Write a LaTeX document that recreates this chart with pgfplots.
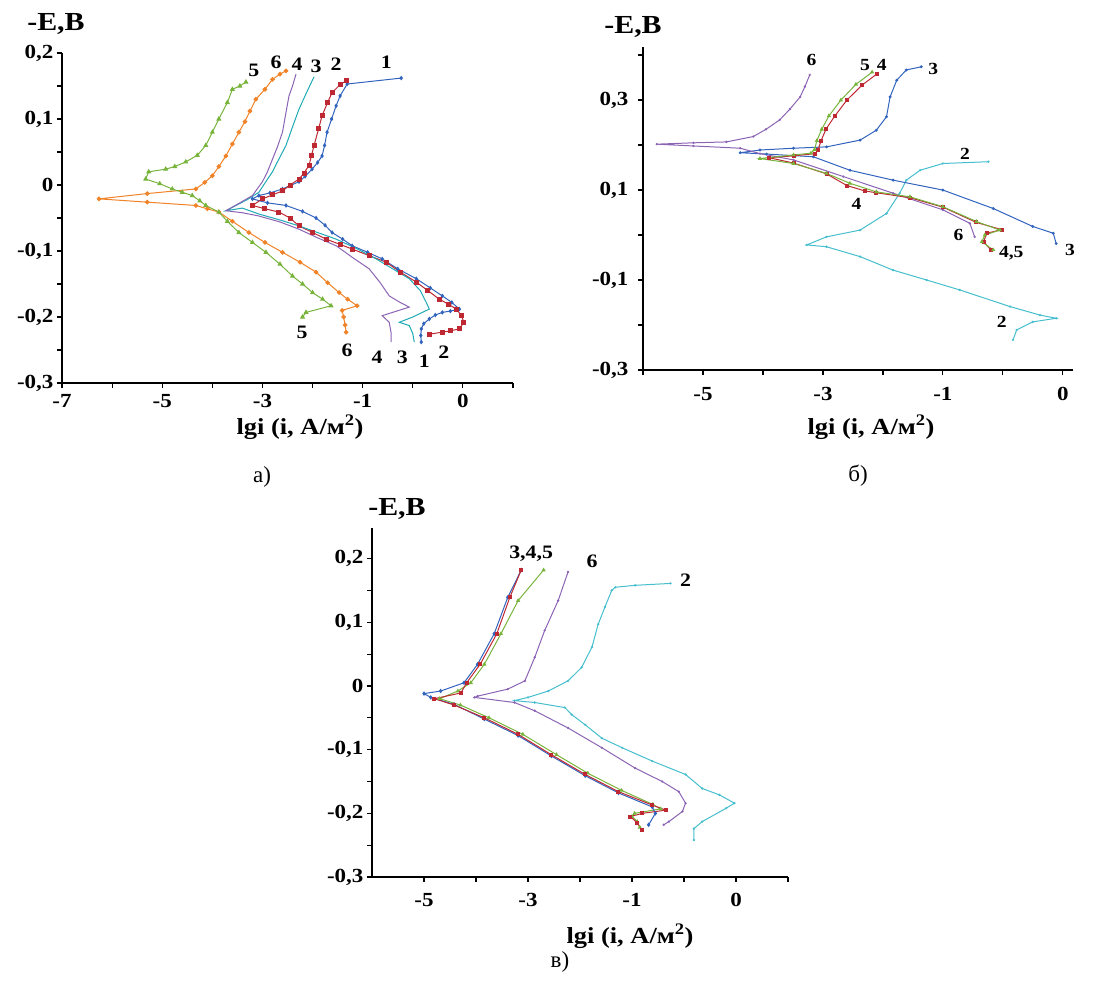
\documentclass[border=0pt]{standalone}
\usepackage{fontspec}
\setmainfont{Liberation Serif}
\newfontfamily\wfont[FakeStretch=1.15]{Liberation Serif}
\usepackage{pgfplots}
\pgfplotsset{compat=1.18}
\definecolor{cBlue}{RGB}{50,100,190}
\definecolor{cRed}{RGB}{190,40,50}
\definecolor{cTeal}{RGB}{30,170,180}
\definecolor{cCyan}{RGB}{70,190,205}
\definecolor{cPurple}{RGB}{140,100,180}
\definecolor{cGreen}{RGB}{120,180,60}
\definecolor{cOrange}{RGB}{240,130,40}
\newcommand{\tickf}{\wfont\bfseries\fontsize{20}{21}\selectfont}
\pgfplotsset{
  myax/.style={scale only axis, axis lines=left,
    axis line style={-, line width=1.5pt, black},
    tick style={black, line width=1.2pt},
    major tick length=5pt, minor tick length=5pt, tick align=outside,
    tick label style={font=\tickf},
    clip=false,
    every axis plot/.append style={line width=1pt}},
}
\tikzset{
  lab/.style={font=\wfont\bfseries\fontsize{19}{20}\selectfont, inner sep=0pt},
  labs/.style={font=\wfont\bfseries\fontsize{17}{18}\selectfont, inner sep=0pt},
}
\begin{document}
\begin{tikzpicture}
\path (0pt,0pt) rectangle (1099pt,-981pt);
% ================= panel a =================
\begin{axis}[myax, at={(62pt,-383pt)}, anchor=south west, width=451pt, height=330pt,
  xticklabel style={yshift=-3pt},
  xmin=-7, xmax=2, ymin=-0.3, ymax=0.2,
  xtick={-7,-5,-3,-1,1}, xticklabels={-7,-5,-3,-1,0}, minor xtick={-6,-4,-2,0,2},
  ytick={-0.3,-0.2,-0.1,0,0.1,0.2}, yticklabels={{-0,3},{-0,2},{-0,1},{0},{0,1},{0,2}},
  minor ytick={-0.25,-0.15,-0.05,0.05,0.15}]
% 1 blue
\addplot[cBlue, mark=diamond*, mark size=1.5pt] coordinates {
(-0.23,0.162) (-1.31,0.153) (-1.45,0.135) (-1.53,0.12) (-1.62,0.10) (-1.71,0.08) (-1.76,0.06) (-1.81,0.044) (-1.9,0.034) (-2.01,0.024) (-2.15,0.013) (-2.27,0.005) (-2.45,-0.001) (-2.6,-0.006) (-2.85,-0.012) (-3.07,-0.016) (-3.2,-0.021)
(-2.9,-0.027) (-2.53,-0.031) (-2.2,-0.04) (-1.93,-0.05) (-1.75,-0.061) (-1.61,-0.072) (-1.4,-0.082) (-1.21,-0.092) (-0.9,-0.102) (-0.61,-0.112) (-0.3,-0.127) (0.07,-0.142) (0.35,-0.156) (0.59,-0.168) (0.78,-0.178) (0.93,-0.188) (0.75,-0.191) (0.59,-0.193) (0.45,-0.197) (0.33,-0.203) (0.22,-0.21) (0.17,-0.218) (0.16,-0.228) (0.17,-0.238)};
% 2 red
\addplot[cRed, mark=square*, mark size=2pt] coordinates {
(-1.33,0.158) (-1.45,0.152) (-1.61,0.14) (-1.7,0.125) (-1.81,0.105) (-1.88,0.085) (-1.97,0.06) (-2.02,0.045) (-2.07,0.03) (-2.17,0.018) (-2.27,0.009) (-2.45,0.0) (-2.6,-0.009) (-2.8,-0.015) (-3.0,-0.021) (-3.2,-0.031)
(-2.95,-0.036) (-2.67,-0.041) (-2.45,-0.05) (-2.27,-0.062) (-2.0,-0.072) (-1.73,-0.082) (-1.45,-0.09) (-1.21,-0.097) (-0.87,-0.107) (-0.53,-0.117) (-0.25,-0.132) (0.07,-0.147) (0.3,-0.16) (0.53,-0.173) (0.72,-0.181) (0.87,-0.188) (0.97,-0.198) (1.02,-0.208) (0.93,-0.218) (0.75,-0.221) (0.59,-0.223) (0.33,-0.226)};
% 3 teal
\addplot[cTeal] coordinates {
(-1.97,0.164) (-2.12,0.14) (-2.27,0.115) (-2.4,0.088) (-2.53,0.06) (-2.68,0.038) (-2.8,0.02) (-2.95,0.003) (-3.07,-0.011) (-3.3,-0.022) (-3.73,-0.039)
(-3.4,-0.035) (-3.07,-0.044) (-2.65,-0.053) (-2.27,-0.062) (-1.9,-0.072) (-1.53,-0.082) (-1.1,-0.097) (-0.73,-0.112) (-0.4,-0.127) (-0.07,-0.142) (0.15,-0.16) (0.27,-0.178) (0.33,-0.188) (0.0,-0.2) (-0.27,-0.208) (-0.07,-0.213) (0.0,-0.225) (0.03,-0.238)};
% 4 purple
\addplot[cPurple] coordinates {
(-2.33,0.168) (-2.4,0.15) (-2.47,0.135) (-2.53,0.11) (-2.6,0.08) (-2.7,0.058) (-2.8,0.039) (-2.9,0.02) (-3.0,0.005) (-3.2,-0.016) (-3.45,-0.027) (-3.73,-0.039)
(-3.4,-0.042) (-3.07,-0.047) (-2.65,-0.056) (-2.27,-0.067) (-1.9,-0.08) (-1.53,-0.092) (-1.2,-0.11) (-0.87,-0.127) (-0.65,-0.148) (-0.47,-0.168) (-0.25,-0.178) (-0.07,-0.185) (-0.61,-0.198) (-0.47,-0.208) (-0.43,-0.225) (-0.43,-0.238)};
% 6 orange
\addplot[cOrange, mark=*, mark size=1.8pt] coordinates {
(-2.53,0.173) (-2.65,0.168) (-2.8,0.16) (-2.95,0.145) (-3.13,0.13) (-3.25,0.112) (-3.35,0.096) (-3.47,0.08) (-3.6,0.062) (-3.73,0.044) (-3.87,0.028) (-4.0,0.014) (-4.15,0.004) (-4.33,-0.006) (-5.3,-0.013) (-6.26,-0.021) (-5.3,-0.026) (-4.33,-0.031) (-4.1,-0.036) (-3.87,-0.041) (-3.6,-0.055) (-3.27,-0.072) (-2.95,-0.087) (-2.6,-0.102) (-2.25,-0.117) (-1.93,-0.132) (-1.7,-0.148) (-1.47,-0.163) (-1.3,-0.173) (-1.11,-0.183) (-1.41,-0.19) (-1.38,-0.2) (-1.35,-0.212) (-1.33,-0.223)};
% 5 green
\addplot[cGreen, mark=triangle*, mark size=2pt] coordinates {
(-3.33,0.156) (-3.45,0.15) (-3.6,0.145) (-3.7,0.125) (-3.87,0.1) (-4.0,0.08) (-4.13,0.06) (-4.3,0.045) (-4.53,0.035) (-4.75,0.028) (-4.93,0.024) (-5.27,0.02) (-5.33,0.009) (-5.05,0.002) (-4.8,-0.006) (-4.6,-0.011) (-4.4,-0.016) (-4.25,-0.024) (-4.13,-0.031) (-3.87,-0.041) (-3.7,-0.055) (-3.47,-0.072) (-3.2,-0.087) (-2.93,-0.102) (-2.65,-0.12) (-2.4,-0.138) (-2.2,-0.15) (-2.0,-0.163) (-1.8,-0.173) (-1.63,-0.183) (-2.13,-0.193) (-2.2,-0.2)};
\node[lab] at (axis cs:-3.17,0.173) {5};
\node[lab] at (axis cs:-2.73,0.186) {6};
\node[lab] at (axis cs:-2.31,0.183) {4};
\node[lab] at (axis cs:-1.93,0.180) {3};
\node[lab] at (axis cs:-1.53,0.183) {2};
\node[lab] at (axis cs:-0.53,0.186) {1};
\node[lab] at (axis cs:-2.21,-0.223) {5};
\node[lab] at (axis cs:-1.31,-0.251) {6};
\node[lab] at (axis cs:-0.71,-0.261) {4};
\node[lab] at (axis cs:-0.21,-0.261) {3};
\node[lab] at (axis cs:0.23,-0.267) {1};
\node[lab] at (axis cs:0.62,-0.253) {2};
\end{axis}
% ================= panel b =================
\begin{axis}[myax, at={(643pt,-370pt)}, anchor=south west, width=430pt, height=323pt,
  yticklabel style={xshift=-6pt}, xticklabel style={yshift=-9pt},
  xmin=-6, xmax=1.17, ymin=-0.3, ymax=0.418,
  xtick={-5,-3,-1,1}, xticklabels={-5,-3,-1,0}, minor xtick={-6,-4,-2,0},
  ytick={-0.3,-0.1,0.1,0.3}, yticklabels={{-0,3},{-0,1},{0,1},{0,3}},
  minor ytick={-0.2,0,0.2,0.4}]
% 2 cyan
\addplot[cCyan, mark=*, mark size=0.6pt] coordinates {
(-0.24,0.163) (-1.0,0.159) (-1.38,0.144) (-1.61,0.122) (-1.72,0.093) (-1.94,0.048) (-2.38,0.011) (-2.94,-0.004) (-3.27,-0.022) (-2.94,-0.026) (-2.38,-0.048) (-1.83,-0.078) (-1.27,-0.1) (-0.72,-0.122) (0.12,-0.159) (0.62,-0.178) (0.89,-0.185) (0.5,-0.193) (0.23,-0.211) (0.17,-0.233)};
% 3 blue
\addplot[cBlue, mark=*, mark size=0.9pt] coordinates {
(-1.36,0.374) (-1.61,0.367) (-1.77,0.344) (-1.88,0.307) (-1.94,0.263) (-2.11,0.233) (-2.38,0.211) (-2.94,0.196) (-3.49,0.193) (-4.05,0.189) (-4.38,0.183) (-3.94,0.18) (-3.16,0.174) (-2.55,0.144) (-1.83,0.122) (-1.0,0.1) (-0.16,0.059) (0.5,0.019) (0.84,0.004) (0.89,-0.019)};
% 6 purple
\addplot[cPurple, mark=*, mark size=0.6pt] coordinates {
(-3.22,0.356) (-3.3,0.33) (-3.38,0.307) (-3.55,0.28) (-3.72,0.256) (-3.95,0.235) (-4.16,0.219) (-4.61,0.207) (-5.16,0.205) (-5.77,0.202) (-5.16,0.198) (-4.38,0.193) (-4.05,0.181) (-3.49,0.167) (-2.66,0.13) (-1.83,0.093) (-1.0,0.056) (-0.55,0.026) (-0.47,-0.004)};
% 4 red
\addplot[cRed, mark=square*, mark size=1.5pt] coordinates {
(-2.1,0.358) (-2.35,0.333) (-2.6,0.3) (-2.8,0.265) (-2.95,0.235) (-3.03,0.21) (-3.08,0.19) (-3.13,0.181) (-3.49,0.176) (-3.9,0.172) (-3.49,0.16) (-2.94,0.136) (-2.6,0.11) (-2.3,0.098) (-2.11,0.094) (-1.55,0.083) (-1.0,0.062) (-0.44,0.028) (-0.02,0.012) (-0.27,0.004) (-0.32,-0.015) (-0.2,-0.033)};
% 5 green
\addplot[cGreen, mark=triangle*, mark size=1.5pt] coordinates {
(-2.18,0.362) (-2.45,0.335) (-2.7,0.3) (-2.9,0.265) (-3.02,0.235) (-3.1,0.21) (-3.14,0.19) (-3.2,0.182) (-3.49,0.178) (-4.05,0.17) (-3.49,0.159) (-2.94,0.137) (-2.55,0.115) (-2.11,0.096) (-1.55,0.085) (-1.0,0.063) (-0.44,0.03) (-0.05,0.011) (-0.3,0.0) (-0.35,-0.015) (-0.16,-0.033)};
\node[labs] at (axis cs:-3.19,0.389) {6};
\node[labs] at (axis cs:-2.30,0.378) {5};
\node[labs] at (axis cs:-2.02,0.378) {4};
\node[labs] at (axis cs:-1.16,0.370) {3};
\node[labs] at (axis cs:-0.63,0.181) {2};
\node[labs] at (axis cs:-2.44,0.070) {4};
\node[labs] at (axis cs:-0.74,0.000) {6};
\node[labs] at (axis cs:0.14,-0.041) {4,5};
\node[labs] at (axis cs:1.12,-0.033) {3};
\node[labs] at (axis cs:-0.02,-0.193) {2};
\end{axis}
% ================= panel c =================
\begin{axis}[myax, at={(372pt,-877pt)}, anchor=south west, width=416pt, height=349pt,
  xticklabel style={yshift=-8pt},
  xmin=-6, xmax=2, ymin=-0.3, ymax=0.248,
  xtick={-5,-3,-1,1}, xticklabels={-5,-3,-1,0}, minor xtick={-4,-2,0,2},
  ytick={-0.3,-0.2,-0.1,0,0.1,0.2}, yticklabels={{-0,3},{-0,2},{-0,1},{0},{0,1},{0,2}},
  minor ytick={-0.25,-0.15,-0.05,0.05,0.15,0.25}]
% 2 cyan
\addplot[cCyan, mark=*, mark size=0.6pt] coordinates {
(-0.26,0.161) (-0.94,0.158) (-1.32,0.155) (-1.39,0.15) (-1.52,0.124) (-1.65,0.097) (-1.77,0.061) (-1.97,0.029) (-2.23,0.008) (-2.61,-0.008) (-3.0,-0.018) (-3.26,-0.023) (-2.87,-0.026) (-2.29,-0.034) (-2.16,-0.045) (-1.9,-0.061) (-1.58,-0.082) (-1.19,-0.097) (-0.61,-0.118) (0.03,-0.139) (0.35,-0.161) (0.68,-0.171) (0.97,-0.184) (0.81,-0.192) (0.35,-0.213) (0.19,-0.224) (0.19,-0.242)};
% 6 purple
\addplot[cPurple, mark=*, mark size=0.6pt] coordinates {
(-2.23,0.179) (-2.42,0.134) (-2.68,0.087) (-2.87,0.045) (-3.06,0.008) (-3.39,-0.005) (-3.97,-0.016) (-4.03,-0.018) (-3.26,-0.026) (-2.87,-0.039) (-2.23,-0.066) (-1.58,-0.097) (-0.94,-0.129) (-0.42,-0.15) (-0.1,-0.166) (0.03,-0.184) (-0.03,-0.197) (-0.29,-0.213) (-0.39,-0.218)};
% 5 green
\addplot[cGreen, mark=triangle*, mark size=1.5pt] coordinates {
(-2.7,0.182) (-3.19,0.134) (-3.52,0.082) (-3.84,0.034) (-4.1,0.005) (-4.35,-0.008) (-4.7,-0.02) (-4.3,-0.03) (-3.75,-0.05) (-3.1,-0.076) (-2.45,-0.108) (-1.85,-0.137) (-1.2,-0.164) (-0.6,-0.186) (-0.45,-0.193) (-0.95,-0.2) (-1.0,-0.205) (-0.9,-0.213) (-0.85,-0.222)};
% 3 blue
\addplot[cBlue, mark=diamond*, mark size=1.5pt] coordinates {
(-3.13,0.182) (-3.39,0.139) (-3.65,0.082) (-3.97,0.034) (-4.23,0.005) (-4.68,-0.008) (-5.0,-0.012) (-4.87,-0.018) (-4.42,-0.029) (-3.84,-0.052) (-3.19,-0.078) (-2.55,-0.11) (-1.9,-0.141) (-1.26,-0.168) (-0.61,-0.19) (-0.55,-0.2) (-0.68,-0.218)};
% 4 red
\addplot[cRed, mark=square*, mark size=1.5pt] coordinates {
(-3.13,0.182) (-3.35,0.139) (-3.6,0.082) (-3.92,0.034) (-4.18,0.005) (-4.29,-0.011) (-4.8,-0.02) (-4.42,-0.03) (-3.84,-0.05) (-3.19,-0.076) (-2.55,-0.108) (-1.9,-0.139) (-1.26,-0.166) (-0.61,-0.187) (-0.35,-0.195) (-0.8,-0.2) (-1.03,-0.205) (-0.9,-0.215) (-0.81,-0.226)};
\node[lab] at (axis cs:-2.94,0.208) {3,4,5};
\node[lab] at (axis cs:-1.77,0.195) {6};
\node[lab] at (axis cs:0.03,0.166) {2};
\end{axis}
% ================= titles =================
\begin{scope}[every node/.style={font=\wfont\bfseries\fontsize{26}{28}\selectfont, inner sep=0pt}]
\node at (56pt,-24pt) {-E,В};
\node at (633pt,-27pt) {-E,В};
\node at (397pt,-509pt) {-E,В};
\end{scope}
\begin{scope}[every node/.style={font=\wfont\bfseries\fontsize{23}{26}\selectfont, inner sep=0pt}]
\node at (300pt,-427pt) {lgi (i, А/м\textsuperscript{2})};
\node at (871pt,-427pt) {lgi (i, А/м\textsuperscript{2})};
\node at (630pt,-936pt) {lgi (i, А/м\textsuperscript{2})};
\end{scope}
\begin{scope}[every node/.style={font=\fontsize{23}{26}\selectfont, inner sep=0pt}]
\node at (262pt,-477pt) {а)};
\node at (858pt,-476pt) {б)};
\node at (560pt,-962pt) {в)};
\end{scope}
\end{tikzpicture}
\end{document}
